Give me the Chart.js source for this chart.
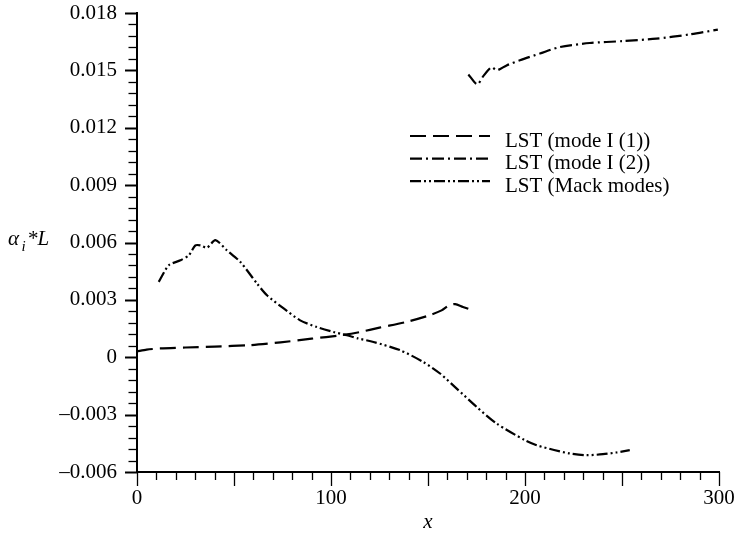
<!DOCTYPE html>
<html>
<head>
<meta charset="utf-8">
<script src="https://cdn.jsdelivr.net/npm/chart.js@4/dist/chart.umd.min.js"></script>
<style>
html,body{margin:0;padding:0;background:#fff;}
#wrap{width:737px;height:536px;}
</style>
</head>
<body>
<div id="wrap"><canvas id="c" width="737" height="536"></canvas></div>
<script>
// ---- data ----
const modeI1X = [0, 5, 12, 25, 40, 58, 74, 90, 105, 115, 125, 139, 151, 157, 161, 164, 168, 174];
const modeI1Y = [0.00030, 0.00040, 0.00046, 0.00051, 0.00056, 0.00063, 0.00078, 0.00097, 0.00115, 0.00132, 0.00155, 0.00185, 0.00220, 0.00245, 0.00272, 0.00278, 0.00263, 0.00242];

const modeI2X = [170.8, 175.4, 178.5, 182.8, 185.4, 190.5, 197.4, 207.7, 218, 233.4, 250.4, 267.7, 284.9, 299.4];
const modeI2Y = [0.01479, 0.01427, 0.01470, 0.01517, 0.01500, 0.01526, 0.01553, 0.01588, 0.01622, 0.01643, 0.01653, 0.01666, 0.01688, 0.01713];

const mackX = [11.2, 16.4, 22.4, 26.7, 30.1, 32.7, 36.1, 40.4, 46.4, 53.3, 61.9, 67, 75.6, 84.1, 92.7, 101.3, 108.2, 114.1, 121.9, 135.6, 147.6, 156.2, 164.8, 175.1, 185.4, 200, 206, 215, 223, 231.7, 240.2, 247, 254];
const mackY = [0.00394, 0.00481, 0.00507, 0.00533, 0.00585, 0.00585, 0.00573, 0.00612, 0.00559, 0.00498, 0.00385, 0.00324, 0.00255, 0.00193, 0.00158, 0.00132, 0.00115, 0.00098, 0.00080, 0.00037, -0.00025, -0.00085, -0.00164, -0.00260, -0.00347, -0.00434, -0.00460, -0.00485, -0.00503, -0.00512, -0.00507, -0.00498, -0.00486];

const seriesNames = ['LST (mode I (1))', 'LST (mode I (2))', 'LST (Mack modes)'];

const xTickValues = [0, 100, 200, 300];
const xTickLabels = ['0', '100', '200', '300'];
const yTickValues = [-0.006, -0.003, 0, 0.003, 0.006, 0.009, 0.012, 0.015, 0.018];
const yTickLabels = ['\u20130.006', '\u20130.003', '0', '0.003', '0.006', '0.009', '0.012', '0.015', '0.018'];

const xMinorStep = 10, xMediumStep = 50;
const yMinorStep = 0.0006;

// ---- build ----
const pts = (xs, ys) => xs.map((x, i) => ({x: x, y: ys[i]}));
const FONT = "'Liberation Serif', 'DejaVu Serif', serif";

const dashes = [[16, 7], [12, 4, 2, 4], [11, 3, 2, 3, 2, 3]];

const datasets = [
  {label: seriesNames[0], data: pts(modeI1X, modeI1Y), borderDash: dashes[0]},
  {label: seriesNames[1], data: pts(modeI2X, modeI2Y), borderDash: dashes[1]},
  {label: seriesNames[2], data: pts(mackX, mackY), borderDash: dashes[2]}
].map(d => Object.assign(d, {
  showLine: true, borderColor: '#000', backgroundColor: '#000', borderWidth: 2.2,
  pointRadius: 0, tension: 0.25, fill: false
}));

const decor = {
  id: 'decor',
  afterDraw(chart) {
    const ctx = chart.ctx;
    const xs = chart.scales.x, ys = chart.scales.y;
    const ca = chart.chartArea;
    ctx.save();
    ctx.strokeStyle = '#000';
    ctx.setLineDash([]);
    // y ticks (outward, left)
    for (let k = 0; k <= Math.round((ys.max - ys.min) / yMinorStep); k++) {
      const v = ys.min + k * yMinorStep;
      const major = Math.abs(v / 0.003 - Math.round(v / 0.003)) < 1e-6;
      const py = Math.round(ys.getPixelForValue(v)) + 0.5;
      ctx.lineWidth = major ? 2 : 1.3;
      ctx.beginPath();
      ctx.moveTo(ca.left, py);
      ctx.lineTo(ca.left - (major ? 12 : 8.5), py);
      ctx.stroke();
    }
    // x ticks (outward, below)
    for (let v = xs.min; v <= xs.max + 1e-9; v += xMinorStep) {
      const medium = v % xMediumStep === 0;
      const px = Math.round(xs.getPixelForValue(v)) + 0.5;
      ctx.lineWidth = 1.3;
      ctx.beginPath();
      ctx.moveTo(px, ca.bottom);
      ctx.lineTo(px, ca.bottom + (medium ? 14 : 8));
      ctx.stroke();
    }
    // legend
    const lx0 = 410, lx1 = 490, tx = 505, ly0 = 136, dy = 22.6;
    chart.data.datasets.forEach((ds, i) => {
      const y = ly0 + i * dy;
      ctx.lineWidth = 2.2;
      ctx.setLineDash(ds.borderDash);
      ctx.beginPath();
      ctx.moveTo(lx0, y);
      ctx.lineTo(lx1, y);
      ctx.stroke();
      ctx.setLineDash([]);
      ctx.fillStyle = '#000';
      ctx.font = '21px ' + FONT;
      ctx.textAlign = 'left';
      ctx.textBaseline = 'alphabetic';
      ctx.fillText(ds.label, tx, y + 10.5);
    });
    // axis titles
    ctx.fillStyle = '#000';
    ctx.textBaseline = 'alphabetic';
    ctx.textAlign = 'left';
    ctx.font = 'italic 21px ' + FONT;
    ctx.fillText('\u03b1', 8, 245);
    ctx.font = 'italic 15px ' + FONT;
    ctx.fillText('i', 21.5, 251);
    ctx.font = 'italic 21px ' + FONT;
    ctx.fillText('*L', 27, 245);
    ctx.textAlign = 'center';
    ctx.fillText('x', (ca.left + ca.right) / 2, 528);
    ctx.restore();
  }
};

new Chart(document.getElementById('c'), {
  type: 'scatter',
  data: {datasets: datasets},
  options: {
    responsive: false,
    animation: false,
    devicePixelRatio: 1,
    layout: {padding: {top: 13, right: 18, left: 0, bottom: 0}},
    plugins: {legend: {display: false}, tooltip: {enabled: false}},
    scales: {
      x: {
        type: 'linear', min: 0, max: 300,
        afterFit(s) { s.height = 64; s.paddingLeft = 0; s.paddingRight = 0; },
        afterBuildTicks(s) { s.ticks = xTickValues.map(v => ({value: v})); },
        border: {display: true, color: '#000', width: 2},
        grid: {display: false, drawTicks: false},
        ticks: {
          color: '#000', padding: 14, maxRotation: 0, autoSkip: false,
          font: {family: FONT, size: 21},
          callback(v, i) { return xTickLabels[i]; }
        }
      },
      y: {
        type: 'linear', min: -0.006, max: 0.018,
        afterFit(s) { s.width = 137; s.paddingTop = 0; s.paddingBottom = 0; },
        afterBuildTicks(s) { s.ticks = yTickValues.map(v => ({value: v})); },
        border: {display: true, color: '#000', width: 2},
        grid: {display: false, drawTicks: false},
        ticks: {
          color: '#000', padding: 20, autoSkip: false,
          font: {family: FONT, size: 21},
          callback(v, i) { return yTickLabels[i]; }
        }
      }
    }
  },
  plugins: [decor]
});
</script>
</body>
</html>
